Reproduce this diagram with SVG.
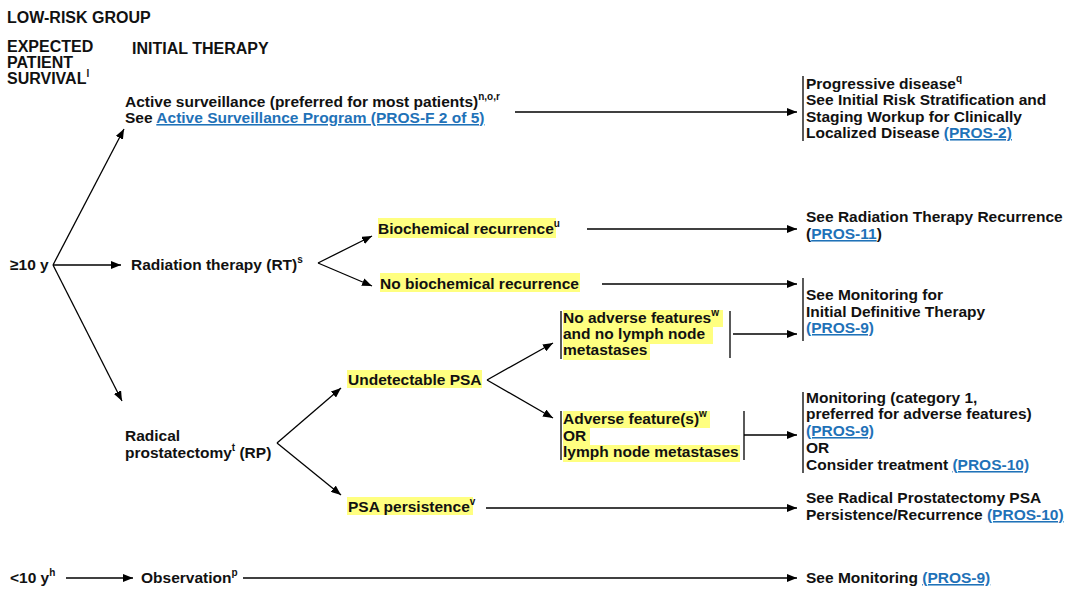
<svg xmlns="http://www.w3.org/2000/svg" width="1080" height="597" viewBox="0 0 1080 597">
<defs>
<marker id="ah" viewBox="0 0 10 8" refX="10" refY="4" markerWidth="10" markerHeight="8" orient="auto" markerUnits="userSpaceOnUse"><path d="M0,0 L10,4 L0,8 z" fill="#000"/></marker>
<style>
text{font-family:"Liberation Sans",Arial,sans-serif;font-weight:bold;font-size:15.5px;fill:#111}
.h{font-size:16px}
.sup{font-size:10px}
.lk{fill:#1f72b8;text-decoration:underline}
.hl{fill:#ffff80}
.c line,.c path{stroke:#000;stroke-width:1.3;fill:none}
.a{marker-end:url(#ah)}
.br{stroke:#000;stroke-width:1.3}
</style>
</defs>
<rect width="1080" height="597" fill="#fff"/>

<g id="headers">
<text class="h" x="7" y="23">LOW-RISK GROUP</text>
<text class="h" x="7" y="52">EXPECTED</text>
<text class="h" x="7" y="68">PATIENT</text>
<text class="h" x="7" y="84">SURVIVAL<tspan class="sup" dy="-7">l</tspan></text>
<text class="h" x="132" y="54">INITIAL THERAPY</text>
</g>

<g id="connectors" class="c">
<line class="a" x1="53" y1="265" x2="124" y2="129"/>
<line class="a" x1="53" y1="265" x2="121" y2="265"/>
<line class="a" x1="53" y1="265" x2="122" y2="401"/>
<line class="a" x1="515" y1="112" x2="797" y2="112"/>
<line class="a" x1="318" y1="263" x2="372" y2="236"/>
<line class="a" x1="318" y1="263" x2="372" y2="286"/>
<line class="a" x1="587" y1="229" x2="797" y2="229"/>
<line class="a" x1="602" y1="284" x2="797" y2="284"/>
<line class="a" x1="277" y1="443" x2="341" y2="388"/>
<line class="a" x1="277" y1="443" x2="341" y2="495"/>
<line class="a" x1="487" y1="380" x2="553" y2="343"/>
<line class="a" x1="487" y1="380" x2="553" y2="418"/>
<line class="a" x1="733" y1="334" x2="797" y2="334"/>
<line class="a" x1="744" y1="435" x2="797" y2="435"/>
<line class="a" x1="486" y1="508" x2="797" y2="508"/>
<line class="a" x1="66" y1="578" x2="133" y2="578"/>
<line class="a" x1="243" y1="578" x2="797" y2="578"/>
</g>

<g id="age-ge10">
<text x="10" y="270">≥10 y</text>
</g>
<g id="age-lt10">
<text x="10" y="583">&lt;10 y<tspan class="sup" dy="-7">h</tspan></text>
</g>

<g id="active-surveillance">
<text x="125" y="107">Active surveillance (preferred for most patients)<tspan class="sup" dy="-7">n,o,r</tspan></text>
<text x="125" y="123">See <tspan class="lk">Active Surveillance Program (PROS-F 2 of 5)</tspan></text>
</g>

<g id="progressive">
<line class="br" x1="803" y1="76" x2="803" y2="141"/>
<text x="806" y="89">Progressive disease<tspan class="sup" dy="-7">q</tspan></text>
<text x="806" y="105">See Initial Risk Stratification and</text>
<text x="806" y="122">Staging Workup for Clinically</text>
<text x="806" y="138">Localized Disease <tspan class="lk">(PROS-2)</tspan></text>
</g>

<g id="radiation">
<text x="131" y="270">Radiation therapy (RT)<tspan class="sup" dy="-7">s</tspan></text>
</g>

<g id="biochem">
<rect class="hl" x="378" y="218" width="178" height="20"/>
<text x="378" y="234">Biochemical recurrence<tspan class="sup" dy="-7">u</tspan></text>
</g>

<g id="rt-recurrence">
<text x="806" y="222">See Radiation Therapy Recurrence</text>
<text x="806" y="239">(<tspan class="lk">PROS-11</tspan>)</text>
</g>

<g id="no-biochem">
<rect class="hl" x="380" y="273" width="200" height="19"/>
<text x="380" y="289">No biochemical recurrence</text>
</g>

<g id="monitoring-definitive">
<line class="br" x1="803" y1="278" x2="803" y2="341"/>
<text x="806" y="300">See Monitoring for</text>
<text x="806" y="317">Initial Definitive Therapy</text>
<text x="806" y="333"><tspan class="lk">(PROS-9)</tspan></text>
</g>

<g id="no-adverse">
<rect class="hl" x="563" y="310" width="160" height="17"/>
<rect class="hl" x="563" y="327" width="150" height="17"/>
<rect class="hl" x="563" y="344" width="87" height="16"/>
<line class="br" x1="561" y1="311" x2="561" y2="359"/>
<line class="br" x1="730" y1="311" x2="730" y2="358"/>
<text x="563" y="323">No adverse features<tspan class="sup" dy="-7">w</tspan></text>
<text x="563" y="339">and no lymph node</text>
<text x="563" y="355">metastases</text>
</g>

<g id="undetectable">
<rect class="hl" x="347" y="370" width="135" height="18"/>
<text x="348" y="385">Undetectable PSA</text>
</g>

<g id="adverse">
<rect class="hl" x="563" y="411" width="147" height="17"/>
<rect class="hl" x="563" y="428" width="27" height="17"/>
<rect class="hl" x="563" y="445" width="177" height="17"/>
<line class="br" x1="561" y1="411" x2="561" y2="460"/>
<line class="br" x1="744" y1="411" x2="744" y2="460"/>
<text x="563" y="424">Adverse feature(s)<tspan class="sup" dy="-7">w</tspan></text>
<text x="563" y="441">OR</text>
<text x="563" y="457">lymph node metastases</text>
</g>

<g id="monitoring-cat1">
<line class="br" x1="803" y1="392" x2="803" y2="473"/>
<text x="806" y="403">Monitoring (category 1,</text>
<text x="806" y="419">preferred for adverse features)</text>
<text x="806" y="436"><tspan class="lk">(PROS-9)</tspan></text>
<text x="806" y="453">OR</text>
<text x="806" y="470">Consider treatment <tspan class="lk">(PROS-10)</tspan></text>
</g>

<g id="radical-prostatectomy">
<text x="125" y="441">Radical</text>
<text x="125" y="458">prostatectomy<tspan class="sup" dy="-7">t</tspan><tspan dy="7"> (RP)</tspan></text>
</g>

<g id="psa-persistence">
<rect class="hl" x="347" y="497" width="126" height="18"/>
<text x="348" y="512">PSA persistence<tspan class="sup" dy="-7">v</tspan></text>
</g>

<g id="rp-persistence">
<text x="806" y="503">See Radical Prostatectomy PSA</text>
<text x="806" y="520">Persistence/Recurrence <tspan class="lk">(PROS-10)</tspan></text>
</g>

<g id="observation">
<text x="141" y="583">Observation<tspan class="sup" dy="-7">p</tspan></text>
</g>

<g id="see-monitoring">
<text x="806" y="583">See Monitoring <tspan class="lk">(PROS-9)</tspan></text>
</g>
</svg>
